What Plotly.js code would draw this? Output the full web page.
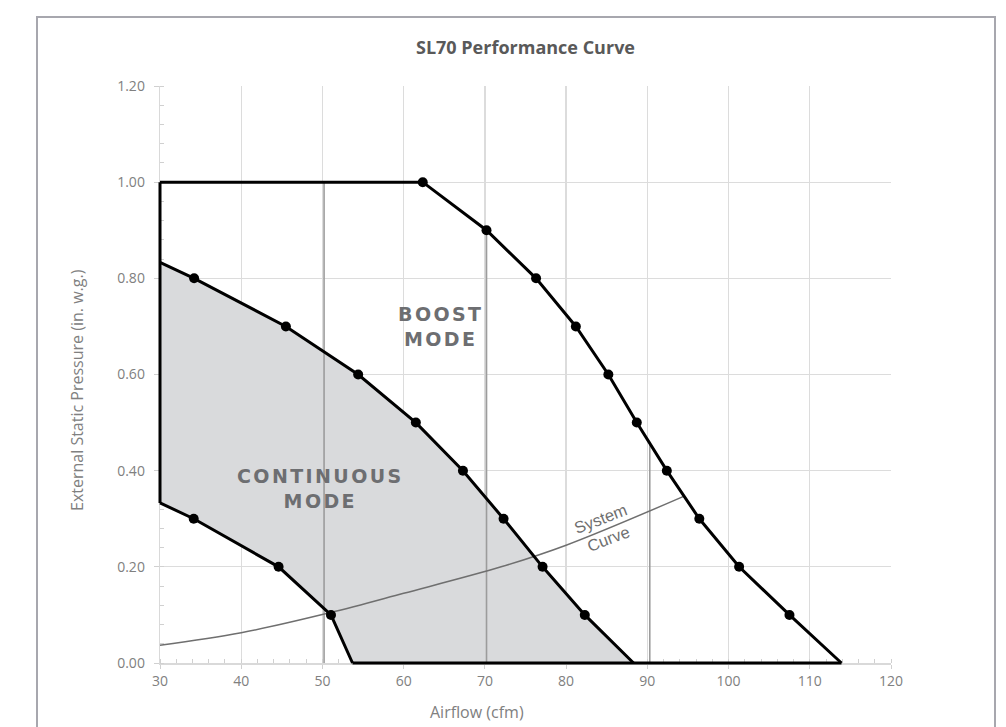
<!DOCTYPE html>
<html>
<head>
<meta charset="utf-8">
<script src="https://cdn.plot.ly/plotly-3.0.1.min.js"></script>
<style>
html,body{margin:0;padding:0;background:#fff;}
#chart{width:1006px;height:727px;}
</style>
</head>
<body>
<div id="chart"></div>
<script>
// ---- data ----
const boostQ = [30, 62.35, 70.2, 76.3, 81.2, 85.2, 88.7, 92.4, 96.4, 101.3, 107.5, 113.9];
const boostP = [1.0, 1.0, 0.9, 0.8, 0.7, 0.6, 0.5, 0.4, 0.3, 0.2, 0.1, 0.0];
const boostMarked = [false, true, true, true, true, true, true, true, true, true, true, false];

const contHighQ = [30, 34.2, 45.5, 54.4, 61.5, 67.3, 72.3, 77.1, 82.3, 88.3];
const contHighP = [0.833, 0.8, 0.7, 0.6, 0.5, 0.4, 0.3, 0.2, 0.1, 0.0];
const contHighMarked = [false, true, true, true, true, true, true, true, true, false];

const contLowQ = [30, 34.15, 44.6, 51.05, 53.7];
const contLowP = [0.333, 0.3, 0.2, 0.1, 0.0];
const contLowMarked = [false, true, true, true, false];

const systemQ = [30, 40, 51, 60, 72, 80, 94.4];
const systemP = [0.037, 0.063, 0.105, 0.145, 0.2, 0.245, 0.346];

const guideQ = [50.2, 70.2, 90.3];
const guideTopP = [1.0, 0.9, 0.46];

const xTicks = [30, 40, 50, 60, 70, 80, 90, 100, 110, 120];
const yTicks = [0, 0.2, 0.4, 0.6, 0.8, 1.0, 1.2];
const yTickText = yTicks.map(v => v.toFixed(2));

const titleText = 'SL70 Performance Curve';
const xTitle = 'Airflow (cfm)';
const yTitle = 'External Static Pressure (in. w.g.)';

// ---- geometry ----
const W = 1006, H = 727;
const L = 150, R = 105, T = 76, B = 54;          // paper margins
const PAD = 10;                                    // extra room so thick edge lines are not clipped
const pw = W - L - R, ph = H - T - B;
const X0 = 30, X1 = 120, Y0 = 0, Y1 = 1.2;
const ex = PAD * (X1 - X0) / (pw - 2 * PAD);
const ey = PAD * (Y1 - Y0) / (ph - 2 * PAD);
function pX(p){ return (p - L) / pw; }
function pY(p){ return (H - B - p) / ph; }

// ---- build traces ----
function pick(arr, mask){ return arr.filter((_, i) => mask[i]); }
const fillX = contHighQ.concat(contLowQ.slice().reverse());
const fillY = contHighP.concat(contLowP.slice().reverse());
const guideX = [], guideY = [];
guideQ.forEach((q, i) => { guideX.push(q, q, null); guideY.push(0, guideTopP[i], null); });

const black = '#000000';
const on2 = {xaxis: 'x2', yaxis: 'y2', showlegend: false, hoverinfo: 'skip'};
const traces = [
  {x: [X0], y: [Y0], mode: 'markers', marker: {opacity: 0}, xaxis: 'x', yaxis: 'y', showlegend: false, hoverinfo: 'skip'},
  Object.assign({x: fillX, y: fillY, mode: 'lines', fill: 'toself', fillcolor: '#d9dadc',
   line: {width: 0, color: 'rgba(0,0,0,0)'}}, on2),
  Object.assign({x: guideX, y: guideY, mode: 'lines', line: {color: '#9c9c9c', width: 1.6}}, on2),
  Object.assign({x: systemQ, y: systemP, mode: 'lines', line: {color: '#6f6f6f', width: 1.5, shape: 'spline'}}, on2),
  Object.assign({x: [contLowQ[0], boostQ[0]], y: [contLowP[0], boostP[0]], mode: 'lines',
   line: {color: black, width: 3}}, on2),
  Object.assign({x: [contLowQ[contLowQ.length-1], boostQ[boostQ.length-1]], y: [0, 0], mode: 'lines',
   line: {color: black, width: 3}}, on2),
  Object.assign({x: boostQ, y: boostP, mode: 'lines', line: {color: black, width: 3}}, on2),
  Object.assign({x: contHighQ, y: contHighP, mode: 'lines', line: {color: black, width: 3}}, on2),
  Object.assign({x: contLowQ, y: contLowP, mode: 'lines', line: {color: black, width: 3}}, on2),
  Object.assign({x: pick(boostQ, boostMarked).concat(pick(contHighQ, contHighMarked), pick(contLowQ, contLowMarked)),
   y: pick(boostP, boostMarked).concat(pick(contHighP, contHighMarked), pick(contLowP, contLowMarked)),
   mode: 'markers', marker: {color: black, size: 10}}, on2)
];

const tickFont = {family: 'Open Sans, sans-serif', size: 14, color: '#808080'};
const titleFont = {family: 'Open Sans, sans-serif', size: 16, color: '#808080'};
const modeFont = {family: 'DejaVu Sans, sans-serif', size: 19, color: '#6d6e71', weight: 'bold'};

const layout = {
  width: W, height: H,
  margin: {l: L, r: R, t: T, b: B},
  paper_bgcolor: '#ffffff', plot_bgcolor: 'rgba(0,0,0,0)',
  showlegend: false,
  title: {text: titleText, x: 0.5, xref: 'paper', y: 1 - 48/H, yanchor: 'middle',
          font: {family: 'Open Sans, sans-serif', size: 18, color: '#595959', weight: 'bold'}},
  xaxis: {
    domain: [PAD / pw, 1 - PAD / pw], anchor: 'y',
    range: [X0, X1], tickmode: 'array', tickvals: xTicks, ticktext: xTicks.map(String),
    showgrid: true, gridcolor: '#dcdcdc', gridwidth: 1.3, zeroline: false,
    showline: true, linecolor: '#d9d9d9', linewidth: 2,
    ticks: 'outside', ticklen: 4, tickcolor: '#d0d0d0', tickfont: tickFont,
    minor: {dtick: 2, tick0: 30, ticks: 'inside', ticklen: 4, tickcolor: '#d0d0d0', showgrid: false}
  },
  yaxis: {
    domain: [PAD / ph, 1 - PAD / ph], anchor: 'x',
    range: [Y0, Y1], tickmode: 'array', tickvals: yTicks, ticktext: yTickText,
    showgrid: true, gridcolor: '#dcdcdc', gridwidth: 1.3, zeroline: false,
    showline: true, linecolor: '#d9d9d9', linewidth: 1.3,
    ticks: 'outside', ticklen: 5, tickcolor: '#d0d0d0', tickfont: tickFont,
    ticklabelstandoff: 6,
    minor: {dtick: 0.04, tick0: 0, ticks: 'inside', ticklen: 4, tickcolor: '#d0d0d0', showgrid: false}
  },
  xaxis2: {domain: [0, 1], anchor: 'y2', range: [X0 - ex, X1 + ex], visible: false, fixedrange: true},
  yaxis2: {domain: [0, 1], anchor: 'x2', range: [Y0 - ey, Y1 + ey], visible: false, fixedrange: true},
  shapes: [
    {type: 'rect', xref: 'paper', yref: 'paper', layer: 'below',
     x0: pX(37), x1: pX(995), y0: pY(745), y1: pY(17),
     line: {color: '#a7a7ae', width: 2}, fillcolor: 'rgba(0,0,0,0)'}
  ],
  annotations: [
    {xref: 'paper', yref: 'paper', x: pX(477), y: pY(712), xanchor: 'center', yanchor: 'middle',
     text: xTitle, showarrow: false, font: titleFont},
    {xref: 'paper', yref: 'paper', x: pX(77), y: pY(390), xanchor: 'center', yanchor: 'middle',
     text: yTitle, showarrow: false, textangle: -90, font: titleFont},
    {xref: 'x', yref: 'y', x: 49.8, y: 0.362, text: 'CONTINUOUS<br>MODE', showarrow: false,
     font: modeFont, align: 'center'},
    {xref: 'x', yref: 'y', x: 64.5, y: 0.699, text: 'BOOST<br>MODE', showarrow: false,
     font: modeFont, align: 'center'},
    {xref: 'x', yref: 'y', x: 84.7, y: 0.279, text: 'System<br>Curve', showarrow: false, textangle: -21,
     font: {family: 'Liberation Sans Narrow, Arial Narrow, sans-serif', size: 16.5, color: '#6f6f6f'}, align: 'center'}
  ]
};

Plotly.newPlot('chart', traces, layout, {displayModeBar: false, staticPlot: true}).then(function(gd){
  gd.querySelectorAll('.annotation-text').forEach(function(t){
    if (t.textContent.indexOf('MODE') >= 0) { t.style.letterSpacing = '2.4px'; }
  });
});
</script>
</body>
</html>
